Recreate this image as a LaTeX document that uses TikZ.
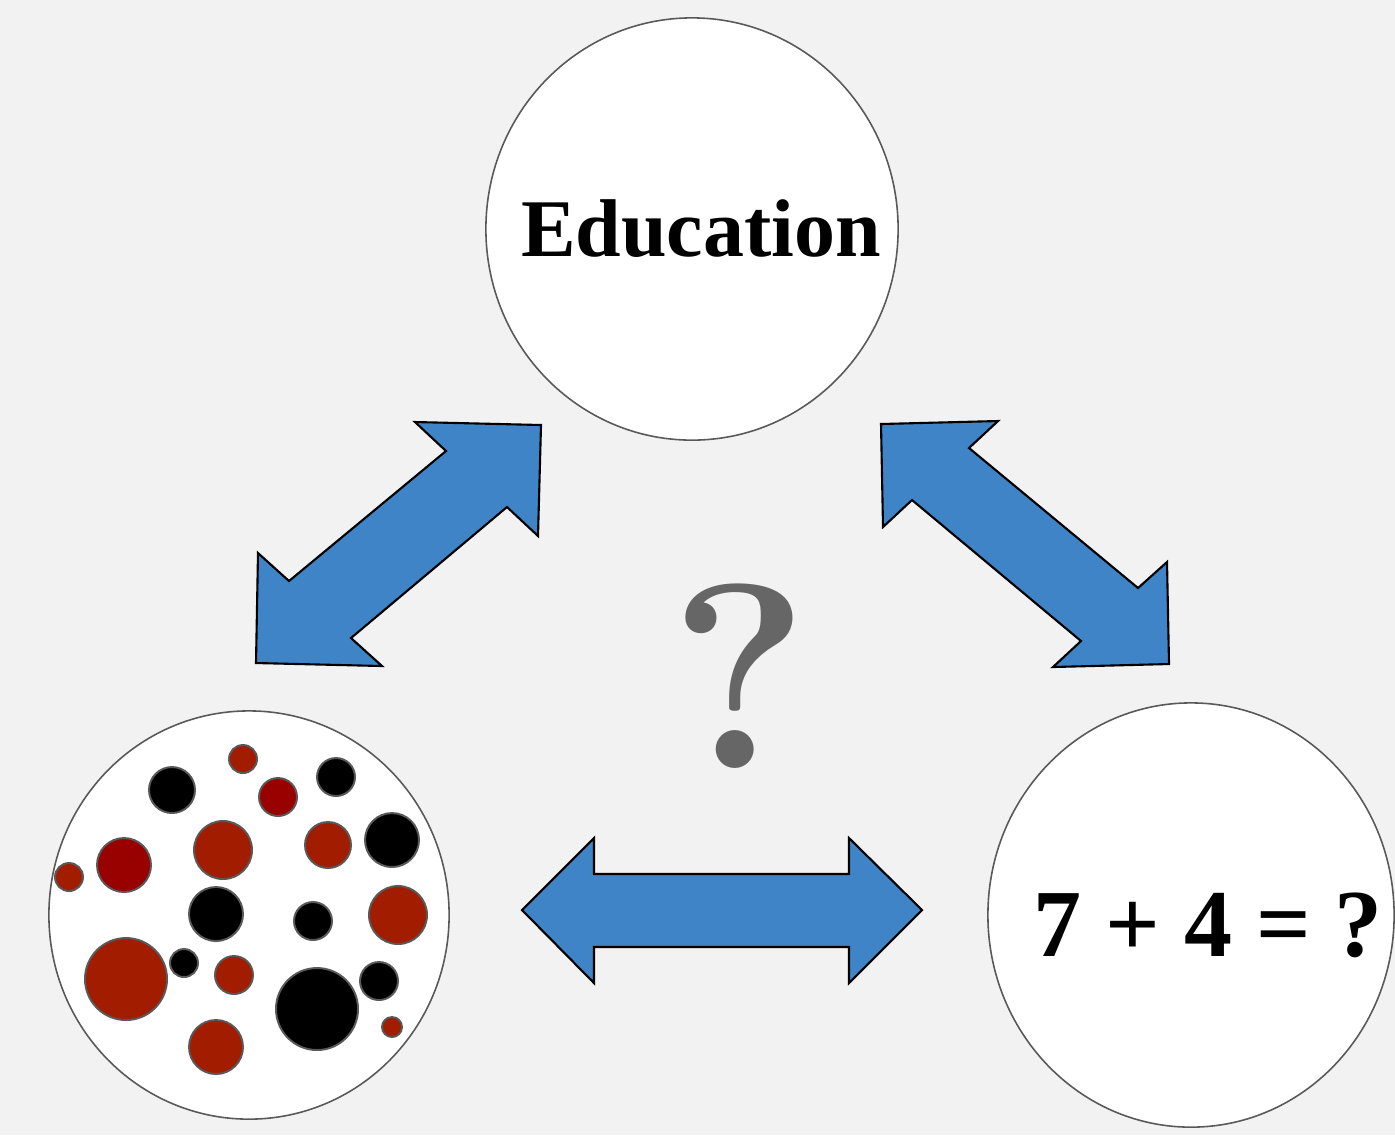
\documentclass[tikz,border=0pt]{standalone}
\usepackage{fontspec}
\setmainfont{Liberation Serif}
\newfontfamily\lmfont{Latin Modern Roman}
\usetikzlibrary{shapes.geometric}
\definecolor{bgcol}{HTML}{F2F2F2}
\definecolor{arrowblue}{HTML}{3F84C6}
\definecolor{rimgray}{HTML}{595959}
\definecolor{dotred}{HTML}{A21C00}
\definecolor{dotdark}{HTML}{990000}
\definecolor{qgray}{HTML}{666666}
\tikzset{
  bubble/.style={ellipse,draw=rimgray,fill=white,line width=0.45pt,inner sep=0pt},
  blockarrow/.style={fill=arrowblue,draw=black,line width=0.6pt,line join=miter},
  dot/.style={draw=rimgray,line width=0.55pt},
  bigword/.style={inner sep=0pt,font=\fontsize{23.3}{28}\selectfont\bfseries}
}
\begin{document}
\begin{tikzpicture}[x=0.01cm,y=-0.01cm]
                \fill[bgcol] (0,0) rectangle (1395,1135);
                \useasboundingbox (0,0) rectangle (1395,1135);
                %% circles
                \node[bubble,minimum width=4.12cm,minimum height=4.22cm] (edu) at (692,229) {};
                \node[bubble,minimum width=4cm,minimum height=4.08cm] (mix) at (249,915) {};
                \node[bubble,minimum width=4.06cm,minimum height=4.24cm] (sum) at (1191,915) {};
                %% labels
                \node[bigword] (edulabel) at (701,229) {Education};
                \node[bigword,font=\fontsize{27.3}{32}\selectfont\bfseries] (sumlabel) at (1208,925) {7 + 4 = ?};
                \node[inner sep=0pt,text=qgray,font=\lmfont\fontsize{75}{80}\selectfont\bfseries] (qmark) at (740,676) {?};
                %% dots
                \foreach \px/\py/\r/\c in {243/759/14/dotred, 172/790/23/black, 278/797/19/dotdark,
                    336/777/19/black, 223/850/29/dotred, 328/845/23/dotred, 392/840/27/black,
                    124/865/27/dotdark, 69/877/14/dotred, 216/914/27/black, 313/921/19/black,
                    398/915/29/dotred, 126/979/41/dotred, 184/963/14/black, 234/975/19/dotred,
                    317/1009/41/black, 379/981/19/black, 392/1027/10/dotred, 216/1047/27/dotred}
                    \draw[dot,fill=\c] (\px,\py) circle[radius=\r*0.01cm];
                %% arrows
                \draw[blockarrow] (541,425) -- (415,422) -- (446,451) -- (289,581) -- (258,553) -- (256,663)
                    -- (382,666) -- (351,638) -- (507,507) -- (538,536) -- cycle;
                \draw[blockarrow] (881,424) -- (998,421) -- (969,448) -- (1138,588) -- (1167,562) -- (1169,664)
                    -- (1053,667) -- (1081,641) -- (912,500) -- (883,527) -- cycle;
                \draw[blockarrow] (522,910) -- (594,838) -- (594,874) -- (849,874) -- (849,838) -- (922,910)
                    -- (849,983) -- (849,947) -- (594,947) -- (594,983) -- cycle;
            \end{tikzpicture}
\end{document}
